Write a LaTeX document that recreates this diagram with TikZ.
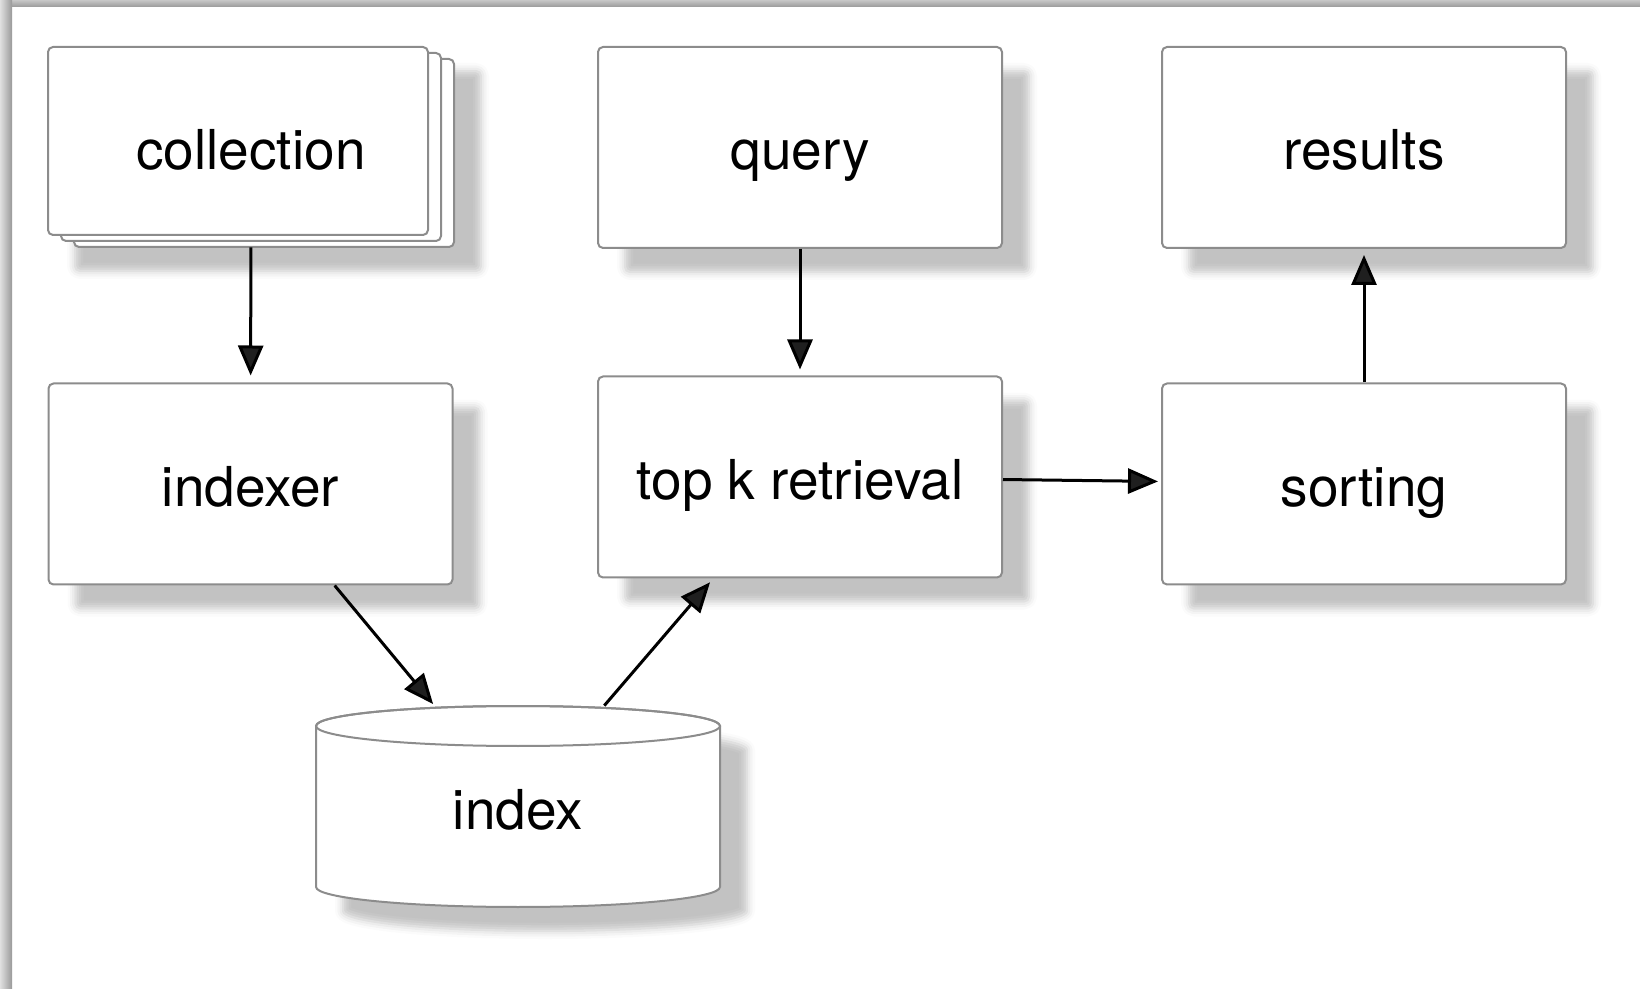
\documentclass[tikz,border=0pt]{standalone}
\usepackage{fontspec}
\setmainfont{TeX Gyre Heros}
\usetikzlibrary{arrows.meta,shadows.blur}

\begin{document}
\begin{tikzpicture}[x=0.5pt,y=-0.5pt,
  every node/.style={font=\fontsize{27.5pt}{33pt}\selectfont,text height=23pt,text depth=0.5pt,inner sep=0pt},
  dropshade/.style={blur shadow={shadow xshift=13.5pt,shadow yshift=-12pt,shadow blur radius=4pt,shadow opacity=24}},
  box/.style={draw=black!45,line width=1pt,fill=white,rounded corners=2.5pt,minimum width=202pt,minimum height=100.5pt,dropshade},
  sheet/.style={draw=black!45,line width=1pt,fill=white,rounded corners=2.5pt,minimum width=190pt,minimum height=94pt},
  flow/.style={line width=1.5pt,-{Triangle[length=15pt,width=12.5pt]}}]
\useasboundingbox (0,0) rectangle (1640,989);

% page edge
\shade[top color=black!22,bottom color=black!40] (0,0) rectangle (1640,7);
\shade[left color=black!12,right color=black!40] (0,0) rectangle (12,989);

% stacked collection
\path[dropshade,rounded corners=2.5pt] (48,47) rectangle (454,247);
\node[sheet] (sheet3) at (264,153) {};
\node[sheet] (sheet2) at (251,147) {};
\node[sheet] (sheet1) at (238,141) {};
\node[minimum width=203pt,minimum height=100pt] (collection) at (251,147) {collection};

\node[box] (query) at (800,147.5) {query};
\node[box] (results) at (1364,147.5) {results};
\node[box] (indexer) at (250.5,484) {indexer};
\node[box] (topk) at (800,477) {top k retrieval};
\node[box] (sorting) at (1364,484) {sorting};

% the index store
\path[dropshade,draw=black!45,line width=1pt,fill=white] (316,726) -- (316,887)
  arc[start angle=180,end angle=0,x radius=202,y radius=20] -- (720,726)
  arc[start angle=0,end angle=-180,x radius=202,y radius=20] -- cycle;
\draw[black!45,line width=1pt] (518,726) ellipse [x radius=202,y radius=20];
\node[minimum width=202pt,minimum height=100.5pt] (index) at (518,806.5) {index};

\draw[flow,shorten >=3.5pt] (collection) -- (indexer);
\draw[flow,shorten >=3pt] (query) -- (topk);
\draw[flow,shorten >=1.5pt] (topk) -- (sorting);
\draw[flow,shorten >=3pt] (sorting) -- (results);
\draw[flow,shorten >=1pt] (indexer) -- (index);
\draw[flow,shorten >=2.5pt] (index) -- (topk);
\end{tikzpicture}
\end{document}
